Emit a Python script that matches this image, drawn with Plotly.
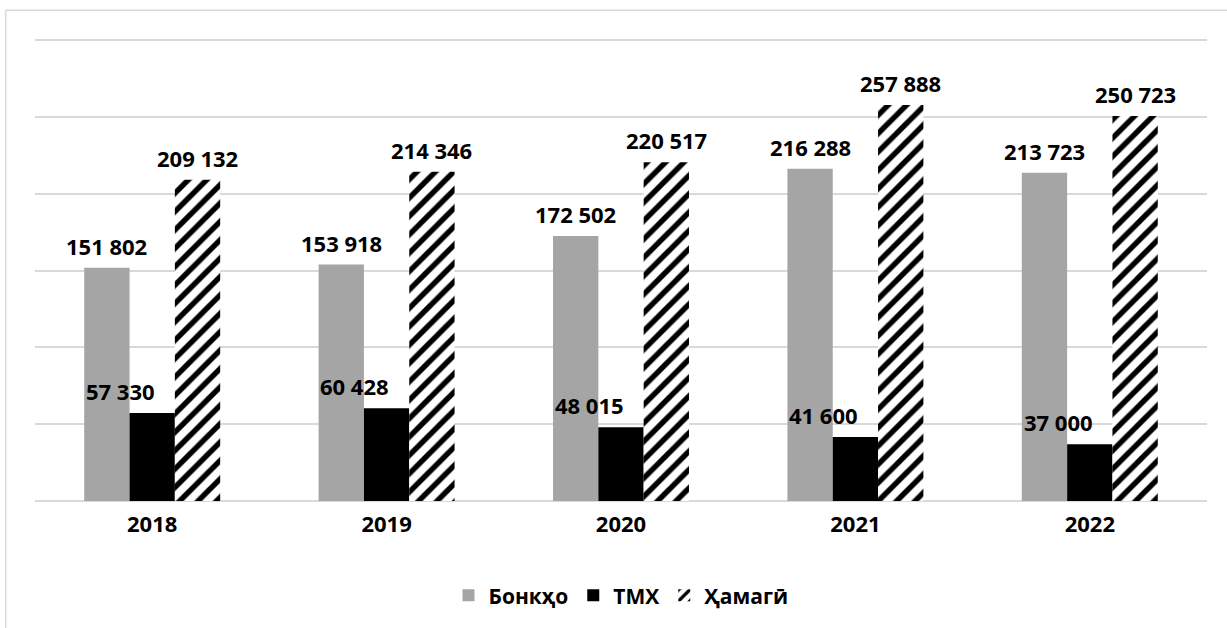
import plotly.graph_objects as go

years = ['2018', '2019', '2020', '2021', '2022']
banks = [151802, 153918, 172502, 216288, 213723]
tmx = [57330, 60428, 48015, 41600, 37000]
total = [209132, 214346, 220517, 257888, 250723]

series = [
    ('Бонкҳо', banks),
    ('ТМХ', tmx),
    ('Ҳамагӣ', total),
]


def fmt(v):
    return f"{v:,}".replace(',', ' ')


font_family = 'Open Sans, sans-serif'
W, H = 1227, 628
margin = dict(l=35, r=20, t=39, b=125)
bargap = 0.42

fig = go.Figure()

fig.add_trace(go.Bar(
    name='Бонкҳо', x=years, y=banks,
    marker=dict(color='#a5a5a5', line=dict(width=0)),
))
fig.add_trace(go.Bar(
    name='ТМХ', x=years, y=tmx,
    marker=dict(color='#000000', line=dict(width=0)),
))
fig.add_trace(go.Bar(
    name='Ҳамагӣ', x=years, y=total,
    marker=dict(
        color='#ffffff',
        line=dict(width=0),
        pattern=dict(shape='/', fgcolor='#000000', bgcolor='#ffffff',
                     size=13, solidity=0.42, fillmode='replace'),
    ),
))

# data labels above each bar, shifted to its slot inside the group
# (category axis: annotation x is the category index)
plot_w = W - margin['l'] - margin['r']
bar_px = plot_w / len(years) * (1 - bargap) / len(series)
# middle series labels sit a bit to the left, clear of the hatched bar
label_nudge = [0, -0.7, 0]
annotations = []
for i, (name, vals) in enumerate(series):
    for j, v in enumerate(vals):
        annotations.append(dict(
            x=j, y=v, xref='x', yref='y',
            text=fmt(v), showarrow=False,
            xanchor='center', yanchor='bottom',
            xshift=(i - 1 + label_nudge[i]) * bar_px, yshift=5,
            font=dict(family=font_family, size=22, color='#000000', weight='bold'),
        ))

fig.update_layout(
    width=W,
    height=H,
    barmode='group',
    bargap=bargap,
    bargroupgap=0,
    margin=margin,
    paper_bgcolor='white',
    plot_bgcolor='white',
    font=dict(family=font_family, color='#000000'),
    showlegend=True,
    legend=dict(
        orientation='h',
        x=0.5, xanchor='center',
        y=-0.205, yanchor='middle',
        font=dict(size=21, family=font_family, weight='bold'),
        itemwidth=30,
    ),
    xaxis=dict(
        type='category',
        tickfont=dict(size=22, family=font_family, weight='bold'),
        ticklabelstandoff=8,
        showline=False,
        ticks='',
        showgrid=False,
    ),
    yaxis=dict(
        range=[0, 300800],
        dtick=50000,
        showticklabels=False,
        showgrid=True,
        gridcolor='#d9d9d9',
        gridwidth=2,
        zeroline=True,
        zerolinecolor='#d9d9d9',
        zerolinewidth=2,
    ),
    annotations=annotations,
    shapes=[
        dict(type='line', xref='paper', yref='paper', x0=-0.025, x1=1.05,
             y0=1.0625, y1=1.0625, line=dict(color='#d9d9d9', width=1.5)),
        dict(type='line', xref='paper', yref='paper', x0=-0.025, x1=-0.025,
             y0=1.0625, y1=-0.3, line=dict(color='#d9d9d9', width=1.5)),
    ],
)

fig.write_html("out.html", config={'displayModeBar': False},
               post_script="document.body.style.margin='0';")
